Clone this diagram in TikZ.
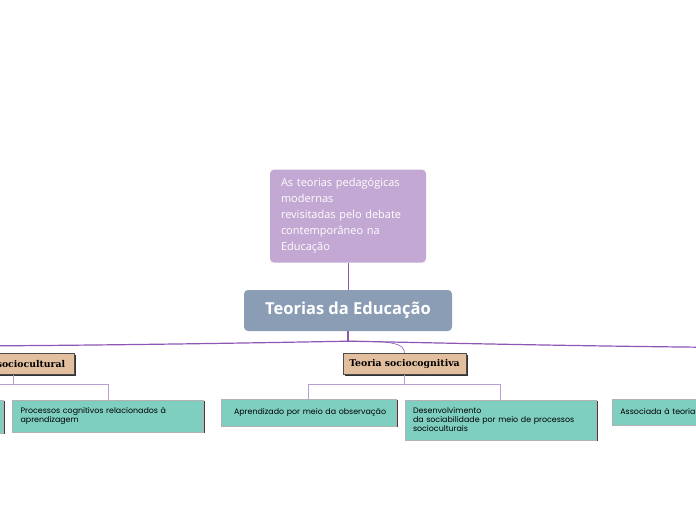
\documentclass[tikz,border=0pt]{standalone}
\usepackage{fontspec}
\setmainfont{Open Sans}
\newfontfamily\slabfont{DejaVu Serif}
\newfontfamily\mapfont{Poppins}
\usetikzlibrary{positioning,shadows,calc}

\definecolor{roxo}{HTML}{C3A8D3}
\definecolor{ardosia}{HTML}{8B9DB4}
\definecolor{bege}{HTML}{E2BF9F}
\definecolor{verde}{HTML}{7ECFC0}
\definecolor{ramocor}{HTML}{8E55B5}
\definecolor{lilas}{HTML}{B99DD2}

\begin{document}
\begin{tikzpicture}[
      x=1pt, y=-1pt,
      tema/.style={fill=ardosia, rounded corners=4pt, text=white,
                   font=\fontsize{16.5}{19}\selectfont\bfseries,
                   minimum width=208pt, minimum height=41pt},
      nota/.style={fill=roxo, rounded corners=4pt, text=white, align=left,
                   text width=134pt, inner xsep=11pt, minimum height=93pt,
                   font=\fontsize{11}{16}\selectfont},
      teoria/.style={draw=black!70, fill=bege, minimum width=123pt,
                     minimum height=21pt, inner xsep=3pt,
                     font=\slabfont\fontsize{9.3}{10}\selectfont\bfseries,
                     drop shadow={shadow xshift=1.5pt, shadow yshift=-1.5pt,
                                  fill=black!80, opacity=1}},
      ideia/.style={draw=black!30, fill=verde, align=left, inner xsep=8pt,
                    font=\mapfont\fontsize{7.9}{9}\selectfont,
                    drop shadow={shadow xshift=1.5pt, shadow yshift=-1.5pt,
                                 fill=black!75, opacity=1}},
      ramo/.style={draw=ramocor, line width=1.2pt},
      fio/.style={draw=ramocor, line width=0.6pt},
      lig/.style={draw=lilas, line width=0.6pt}
    ]
    \path[use as bounding box, clip] (0,0) rectangle (696,520);

    \node[tema] (tema) at (348,310.5) {Teorias da Educação};
    \node[nota, above=27pt of tema] (nota) {As teorias pedagógicas\\
      modernas\\revisitadas pelo debate\\contemporâneo na\\Educação};

    \node[teoria, below=22pt of tema, xshift=56.5pt] (cog) {Teoria sociocognitiva};
    \node[teoria, left=268pt of cog] (cult) {Teoria sociocultural};

    \node[ideia, below=24pt of cog, xshift=-96pt, text width=159pt,
          minimum height=27pt] (obs) {\hspace*{5pt}Aprendizado por meio da observação};
    \node[ideia, below=25pt of cog, xshift=96pt, text width=175pt,
          minimum height=40pt] (des) {Desenvolvimento\\
      da sociabilidade por meio de processos\\socioculturais};
    \node[ideia, below=25pt of cult, xshift=95pt, text width=175pt,
          minimum height=32pt] (proc) {Processos cognitivos relacionados à\\
      aprendizagem};
    \node[ideia, below=25pt of cult, xshift=-103.5pt, text width=172pt,
          minimum height=33pt] (outra) {};
    \node[ideia, anchor=north west, text width=120pt, minimum height=26pt]
      (assoc) at ($(des.north east)+(16,-1)$) {Associada à teoria};

    \coordinate (no) at ($(tema.south)+(0,10)$);
    \coordinate (esq) at (-30,346);
    \coordinate (dir) at (730,347.5);

    \draw[fio] (nota.south) -- (tema.north);
    \draw[ramo] (tema.south) -- (no);
    \draw[ramo] (no) .. controls (300,342) and (150,345) .. (esq);
    \draw[ramo] (no) .. controls (400,342) and (560,346) .. (dir);
    \draw[fio] (no) .. controls (392,341) and (404.5,343) .. (cog.north);

    \foreach \p/\f in {cog/obs, cog/des, cult/proc, cult/outra}
      {\draw[lig] (\p.south) -- ++(0,10) -| (\f.north);}
  \end{tikzpicture}
\end{document}
